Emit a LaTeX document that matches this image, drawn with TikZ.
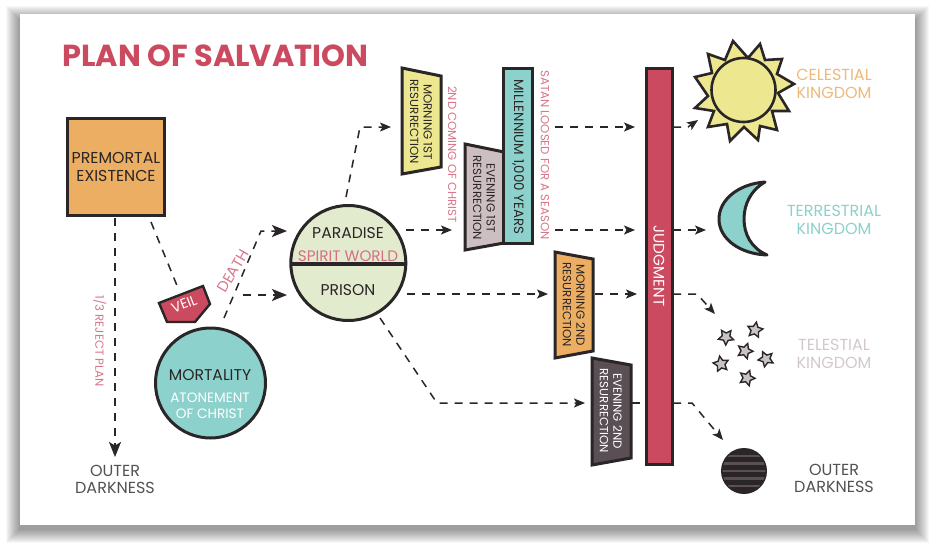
\documentclass[tikz,border=0pt]{standalone}
\usepackage{fontspec}
\setmainfont{Poppins}
\usetikzlibrary{arrows.meta,calc}
\definecolor{ink}{HTML}{2A2526}
\definecolor{crim}{HTML}{CB4A60}
\definecolor{orangeb}{HTML}{EBAE62}
\definecolor{teal}{HTML}{8DD1CC}
\definecolor{yell}{HTML}{EDE88F}
\definecolor{pale}{HTML}{E3EBCF}
\definecolor{mauve}{HTML}{CDBFC1}
\definecolor{slate}{HTML}{5A4F54}
\definecolor{starg}{HTML}{C9C3C6}
\definecolor{softcrim}{HTML}{D8758A}
\tikzset{
 x=1pt,y=-1pt,
 shape box/.style={draw=ink,line width=3pt,line join=miter},
 flow/.style={draw=ink,line width=1.5pt,dash pattern=on 8pt off 7pt},
 tipped/.style={flow,-{Stealth[length=11pt,width=9pt,inset=2.5pt]}},
 bigtip/.style={flow,-{Stealth[length=15pt,width=12pt,inset=3.5pt]}},
 lbl/.style={inner sep=0pt,align=center,font=\fontsize{15.6}{18}\selectfont},
 kingdom/.style={inner sep=0pt,align=center,font=\fontsize{16}{17.5}\selectfont},
 vlbl/.style={inner sep=0pt,align=center,rotate=-90,font=\fontsize{11.8}{13.5}\selectfont,text=ink},
 note/.style={inner sep=0pt,text=softcrim,font=\fontsize{11.7}{13}\selectfont},
}
\begin{document}
\begin{tikzpicture}
\useasboundingbox (0,0) rectangle (936,551);
% card shadow, built up in soft layers
\fill[white] (0,0) rectangle (936,551);
\foreach \o in {13,12,...,0}{
  \fill[black,opacity=0.03] (19-\o,19-\o) rectangle (916+\o,530+\o);
}
\fill[white] (20,14) rectangle (915,525);
\node[anchor=west,inner sep=0pt,text=crim,font=\fontsize{30.4}{32}\bfseries\selectfont] (title) at (62,56) {PLAN OF SALVATION};

% helper coordinates
\coordinate (darkl) at (115,457);
\coordinate (veilin) at (178,288);

% connectors under shapes
\draw[bigtip] (115,218) -- (darkl);
\draw[flow] (151,222) -- (veilin);
\draw[bigtip] (224,318) -- (261,231) -- (287,231);
\draw[bigtip] (243,295) -- (287,295);
\draw[tipped] (346,197) -- (360,127) -- (391,127);
\draw[tipped] (406,230) -- (452,230);
\draw[tipped] (407,294) -- (548,294);
\draw[tipped] (380,318) -- (437,403) -- (585,403);
\draw[tipped] (555,127) -- (635,127);
\draw[tipped] (555,230) -- (635,230);
\draw[tipped] (595,294) -- (637,294);
\draw[flow] (632,403) -- (645,403);
\draw[tipped] (673,127) -- (688,127) -- (698,120);
\draw[tipped] (673,230) -- (706,230);
\draw[tipped] (673,294) -- (697,294) -- (715,314);
\draw[tipped] (673,403) -- (692,403) -- (723,440);

% premortal
\node[shape box,fill=orangeb,minimum width=97pt,minimum height=97pt,inner sep=0pt,align=center,font=\fontsize{15.8}{18}\selectfont,text=ink] (pre) at (116,167) {PREMORTAL\\EXISTENCE};

% veil
\filldraw[shape box,fill=crim,line width=2.4pt] (159,303) -- (203,286) -- (210,304) -- (195,322) -- (167,322) -- cycle;
\node[inner sep=0pt,text=white,rotate=21,font=\fontsize{14}{15}\selectfont] (veil) at (184,304) {VEIL};
\node[inner sep=0pt,text=softcrim,rotate=60,font=\fontsize{15}{16}\selectfont] (death) at (233,271) {DEATH};

% mortality
\node[shape box,circle,fill=teal,minimum size=110pt,inner sep=0pt] (mort) at (210.5,383) {};
\node[lbl,text=ink] (mortt) at (210,375) {MORTALITY};
\node[inner sep=0pt,align=center,text=white,font=\fontsize{13.6}{16}\selectfont] (aton) at (210,406) {ATONEMENT\\OF CHRIST};

% spirit world
\node[shape box,circle,fill=pale,minimum size=115pt,inner sep=0pt] (world) at (348.3,263) {};
\draw[ink,line width=4pt] (290,264) -- (406.5,264);
\node[lbl,text=ink] (para) at (348,233) {PARADISE};
\node[inner sep=0pt,text=softcrim!85!crim,font=\fontsize{15.2}{16}\selectfont] (spirit) at (348,256) {SPIRIT\ WORLD};
\node[lbl,text=ink] (pris) at (348,290) {PRISON};
\node[note,rotate=-90] (rej) at (100,341) {1/3 REJECT PLAN};
\node[kingdom,text=ink!80!white] (od1) at (115,479.5) {OUTER\\DARKNESS};

% morning first
\filldraw[shape box,fill=yell] (402,68) -- (441,76) -- (441,167) -- (402,174) -- cycle;
\node[vlbl] (m1) at (421,122) {MORNING 1ST\\RESURRECTION};
\node[note,rotate=-90] (second) at (452.5,154.5) {2ND COMING OF CHRIST};
% evening first
\filldraw[shape box,fill=mauve] (465,144) -- (504,152) -- (504,243) -- (465,250) -- cycle;
\node[vlbl] (e1) at (484,198) {EVENING 1ST\\RESURRECTION};
% millennium
\node[shape box,fill=teal,minimum width=29pt,minimum height=175pt,inner sep=0pt] (mill) at (518,156) {};
\node[inner sep=0pt,rotate=-90,text=ink,font=\fontsize{13.4}{15}\selectfont] (millt) at (518,157) {MILLENNIUM 1,000 YEARS};
\node[note,rotate=-90] (sat) at (545,155) {SATAN LOOSED FOR A SEASON};
% morning second
\filldraw[shape box,fill=orangeb] (555,252) -- (593,259) -- (593,351) -- (555,358) -- cycle;
\node[vlbl] (m2) at (574,305) {MORNING 2ND\\RESURRECTION};
% evening second
\filldraw[shape box,fill=slate] (592,358) -- (631,365) -- (631,458) -- (592,465) -- cycle;
\node[vlbl,text=white] (e2) at (611,411) {EVENING 2ND\\RESURRECTION};
% judgment
\node[shape box,fill=crim,minimum width=26pt,minimum height=396pt,inner sep=0pt] (judg) at (659,266) {};
\node[inner sep=0pt,rotate=-90,text=white,font=\fontsize{15.2}{16}\selectfont] (judt) at (659,266) {JUDGMENT};

% sun
\filldraw[shape box,fill=yell,line width=2.6pt,line join=miter]
  (733,41) -- (748,58) -- (760,44) -- (765,60) -- (782,59) -- (777,74) -- (794,84) -- (778,93) -- (789,111) -- (772,111) -- (777,130) -- (760,126) -- (758,140) -- (744,127) -- (730,141) -- (727,124) -- (708,127) -- (714,111) -- (695,108) -- (708,96) -- (695,77) -- (712,73) -- (708,54) -- (725,60) -- cycle;
\node[shape box,circle,fill=yell,line width=2.6pt,minimum size=64pt,inner sep=0pt] (sun) at (743.5,90) {};
\node[kingdom,text=orangeb!85!white] (cel) at (834,84) {CELESTIAL\\KINGDOM};

% moon
\filldraw[shape box,fill=teal,line width=3pt,line join=round]
  (765,182) .. controls (738,184) and (719,200) .. (719,219)
  .. controls (719,239) and (740,254) .. (767,255)
  .. controls (751,248) and (744,234) .. (744,219)
  .. controls (744,204) and (751,190) .. (765,182) -- cycle;
\node[kingdom,text=teal] (ter) at (834,220) {TERRESTRIAL\\KINGDOM};

% stars
\foreach \n/\cx/\cy/\r in {s1/726/337/34,s2/755/330/-10,s3/745/351/-20,s4/721/364/10,s5/766/359/25,s6/747/378/-20}{
  \filldraw[draw=ink,line width=1.4pt,fill=starg,line join=miter,rotate around={\r:(\cx,\cy)}]
   ($(\cx,\cy)+(90:-8)$)
   \foreach \k in {1,...,4}{ -- ($(\cx,\cy)+({-90+\k*72-36}:4)$) -- ($(\cx,\cy)+({-90+\k*72}:8)$) }
   -- ($(\cx,\cy)+({-90+5*72-36}:4)$) -- cycle;
}
\node[kingdom,text=mauve!85!white] (tel) at (834,354) {TELESTIAL\\KINGDOM};

% dark planet
\node[circle,fill=ink,minimum size=46pt,inner sep=0pt] (dark) at (744,471) {};
\begin{scope}
\clip (744,471) circle (21.5);
\foreach \yy in {456,463.5,471,478.5,486}{\draw[slate,line width=2.4pt] (720,\yy) -- (768,\yy);}
\end{scope}
\node[kingdom,text=ink!80!white] (od2) at (834,478.5) {OUTER\\DARKNESS};
\end{tikzpicture}
\end{document}
